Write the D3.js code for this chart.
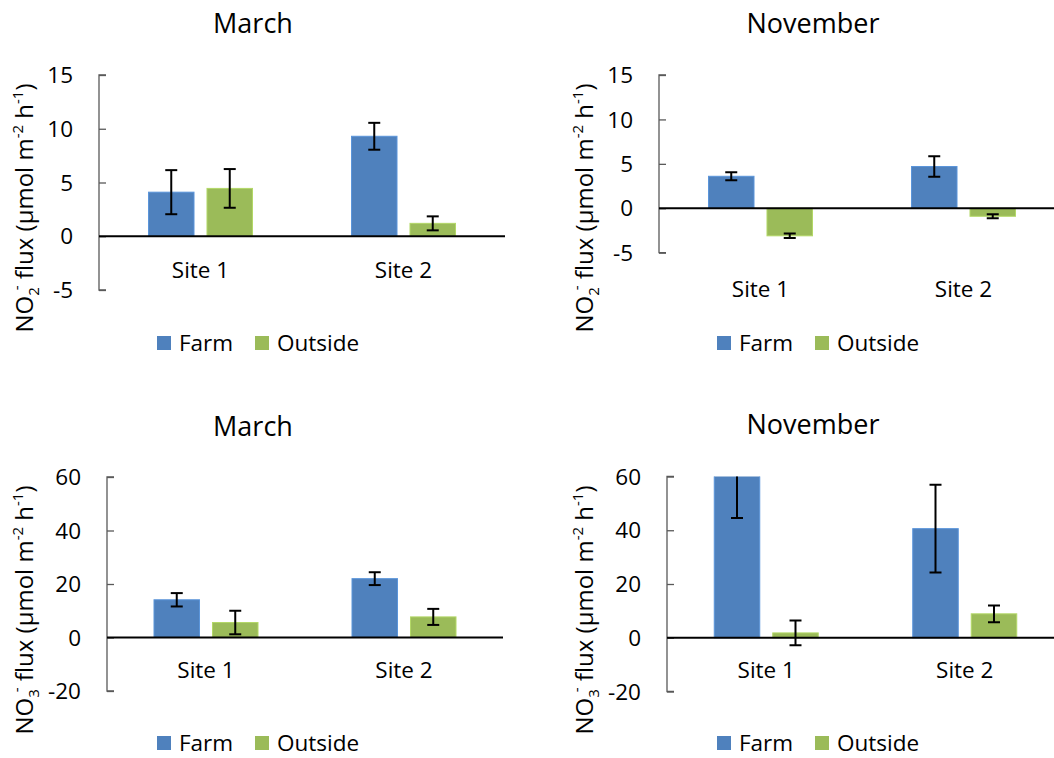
<!DOCTYPE html>
<html lang="en">
<head>
<meta charset="utf-8">
<title>NO2 / NO3 flux</title>
<script src="https://cdn.jsdelivr.net/npm/d3@7"></script>
<style>
  body { margin: 0; background: #fff; }
  text { font-family: "Open Sans", sans-serif; fill: #000; white-space: pre; }
</style>
</head>
<body>
<script>
// categories and series
var sites = ["Site 1", "Site 2"];
var series = ["Farm", "Outside"];
var colors = ["#4f81bd", "#9bbb59"];

// tick labels
var no2Ticks = [15, 10, 5, 0, -5];
var no3Ticks = [60, 40, 20, 0, -20];

// values (Site 1, Site 2)
var no2MarchFarm = [4.1, 9.3],     no2MarchFarmErr = [2.05, 1.25];
var no2MarchOutside = [4.45, 1.2], no2MarchOutsideErr = [1.8, 0.65];
var no2NovFarm = [3.6, 4.7],       no2NovFarmErr = [0.45, 1.15];
var no2NovOutside = [-3.1, -0.9],  no2NovOutsideErr = [0.25, 0.22];
var no3MarchFarm = [14.1, 22.0],   no3MarchFarmErr = [2.5, 2.4];
var no3MarchOutside = [5.6, 7.7],  no3MarchOutsideErr = [4.4, 3.0];
var no3NovFarm = [75, 40.6],       no3NovFarmErr = [30.4, 16.3];
var no3NovOutside = [1.8, 8.9],    no3NovOutsideErr = [4.6, 3.1];

var width = 1054, height = 758;
var svg = d3.select("body").append("svg")
    .attr("width", width)
    .attr("height", height);

var panels = [
  { title: "March", ion: "2", ticks: no2Ticks,
    vals: [no2MarchFarm, no2MarchOutside], errs: [no2MarchFarmErr, no2MarchOutsideErr],
    x0: 99, x1: 505, y0: 75, y1: 290, siteY: 278, legY: 343, titleY: 33, labY: 208, ox: 0 },
  { title: "November", ion: "2", ticks: no2Ticks,
    vals: [no2NovFarm, no2NovOutside], errs: [no2NovFarmErr, no2NovOutsideErr],
    x0: 659, x1: 1065, y0: 75, y1: 252.7, siteY: 297, legY: 343, titleY: 33, labY: 208, ox: 560 },
  { title: "March", ion: "3", ticks: no3Ticks,
    vals: [no3MarchFarm, no3MarchOutside], errs: [no3MarchFarmErr, no3MarchOutsideErr],
    x0: 107, x1: 503, y0: 477, y1: 691, siteY: 678, legY: 743, titleY: 436, labY: 610, ox: 0 },
  { title: "November", ion: "3", ticks: no3Ticks,
    vals: [no3NovFarm, no3NovOutside], errs: [no3NovFarmErr, no3NovOutsideErr],
    x0: 667, x1: 1064, y0: 476.5, y1: 691.5, siteY: 678, legY: 743, titleY: 434, labY: 610, ox: 560 }
];

panels.forEach(function(p, i) {
  var g = svg.append("g");

  var y = d3.scaleLinear()
      .domain([d3.min(p.ticks), d3.max(p.ticks)])
      .range([p.y1, p.y0]);
  var x = d3.scaleBand().domain(sites).range([p.x0, p.x1]);
  var xs = d3.scaleBand().domain(series).range([-52, 52]).paddingInner(0.222);

  // clip to plot area (Farm bar in Nov NO3 runs past 60)
  g.append("clipPath").attr("id", "clip" + i)
    .append("rect")
    .attr("x", p.x0).attr("y", p.y0)
    .attr("width", p.x1 - p.x0).attr("height", p.y1 - p.y0);

  // title
  g.append("text")
    .attr("x", p.ox + 253).attr("y", p.titleY)
    .attr("text-anchor", "middle")
    .style("font-size", "27px")
    .text(p.title);

  // y axis (ticks inside)
  var yAxis = d3.axisRight(y).tickValues(p.ticks).tickSize(7).tickFormat("");
  var ya = g.append("g").attr("transform", "translate(" + p.x0 + ",0)").call(yAxis);
  ya.select(".domain").attr("d", "M7," + p.y0 + "H0V" + p.y1 + "H7");
  ya.selectAll("path, line").attr("stroke", "#595959").attr("stroke-width", 1.3);

  g.selectAll(".ytl").data(p.ticks).enter().append("text")
    .attr("x", p.x0 - 26)
    .attr("y", function(d) { return y(d); })
    .attr("dy", "0.36em")
    .attr("text-anchor", "end")
    .style("font-size", "22.5px")
    .text(function(d) { return d; });

  // bars
  var plot = g.append("g").attr("clip-path", "url(#clip" + i + ")");
  series.forEach(function(s, k) {
    plot.selectAll(".bar" + k).data(sites).enter().append("rect")
      .attr("x", function(d) { return x(d) + x.bandwidth() / 2 + xs(s); })
      .attr("width", xs.bandwidth())
      .attr("y", function(d, j) { return y(Math.max(0, p.vals[k][j])); })
      .attr("height", function(d, j) { return Math.abs(y(p.vals[k][j]) - y(0)); })
      .attr("fill", colors[k])
      .attr("stroke", d3.color(colors[k]).brighter(0.4))
      .attr("stroke-width", 1);
  });

  // zero line
  g.append("line")
    .attr("x1", p.x0).attr("x2", p.x1)
    .attr("y1", y(0)).attr("y2", y(0))
    .attr("stroke", "#000").attr("stroke-width", 2);

  // error bars
  series.forEach(function(s, k) {
    sites.forEach(function(site, j) {
      var cx = x(site) + x.bandwidth() / 2 + xs(s) + xs.bandwidth() / 2;
      var lo = y(p.vals[k][j] - p.errs[k][j]);
      var hi = y(p.vals[k][j] + p.errs[k][j]);
      var eb = plot.append("g").attr("stroke", "#000").attr("stroke-width", 2);
      eb.append("line").attr("x1", cx).attr("x2", cx).attr("y1", lo).attr("y2", hi);
      eb.append("line").attr("x1", cx - 6).attr("x2", cx + 6).attr("y1", lo).attr("y2", lo);
      eb.append("line").attr("x1", cx - 6).attr("x2", cx + 6).attr("y1", hi).attr("y2", hi);
    });
  });

  // category labels
  g.selectAll(".site").data(sites).enter().append("text")
    .attr("x", function(d) { return x(d) + x.bandwidth() / 2; })
    .attr("y", p.siteY)
    .attr("text-anchor", "middle")
    .style("font-size", "22.5px")
    .text(function(d) { return d; });

  // y axis title
  var lab = g.append("text")
    .attr("transform", "translate(" + (p.ox + 33) + "," + p.labY + ") rotate(-90)")
    .attr("text-anchor", "middle")
    .style("font-size", "24px");
  lab.append("tspan").text("NO");
  lab.append("tspan").attr("dy", 6).style("font-size", "15px").text(p.ion);
  lab.append("tspan").attr("dx", -3).attr("dy", -17).style("font-size", "15px").text("-");
  lab.append("tspan").attr("dy", 11).text(" flux (\u00b5mol m");
  lab.append("tspan").attr("dy", -10).style("font-size", "15px").text("-2");
  lab.append("tspan").attr("dy", 10).text(" h");
  lab.append("tspan").attr("dy", -10).style("font-size", "15px").text("-1");
  lab.append("tspan").attr("dy", 10).text(")");

  // legend
  var legX = [p.ox + 157, p.ox + 255];
  series.forEach(function(s, k) {
    g.append("rect")
      .attr("x", legX[k]).attr("y", p.legY - 7)
      .attr("width", 14).attr("height", 14)
      .attr("fill", colors[k]);
    g.append("text")
      .attr("x", legX[k] + 22).attr("y", p.legY)
      .attr("dy", "0.36em")
      .style("font-size", "22.5px")
      .text(s);
  });
});
</script>
</body>
</html>
